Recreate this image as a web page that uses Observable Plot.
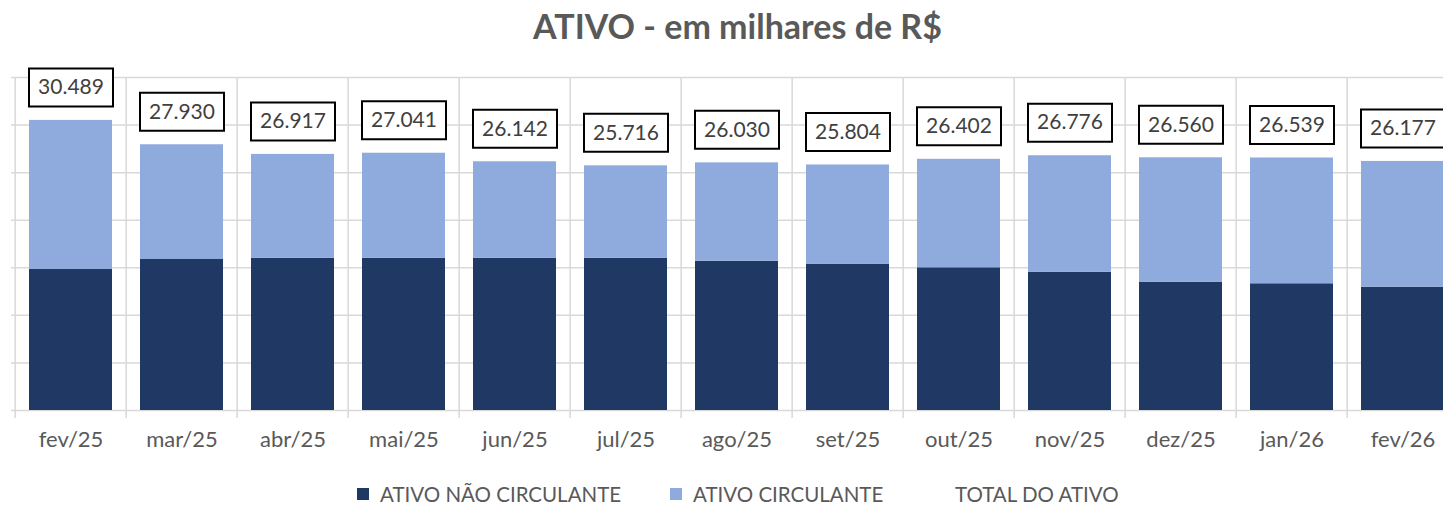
<!DOCTYPE html>
<html>
<head>
<meta charset="utf-8">
<script src="https://cdn.jsdelivr.net/npm/d3@7"></script>
<script src="https://cdn.jsdelivr.net/npm/@observablehq/plot@0.6"></script>
<style>
  body { margin: 0; background: #fff; overflow: hidden; font-family: Lato, "Open Sans", sans-serif; }
  #wrap { position: relative; width: 1475px; }
  #title { height: 60px; line-height: 52px; text-align: center; font-weight: bold; font-size: 34px; color: #595959; }
  #legend { position: relative; height: 39px; font-size: 20.5px; color: #595959; }
  .item { position: absolute; top: 0; height: 48px; display: flex; align-items: center; white-space: nowrap; }
  .sw { width: 12px; height: 12px; margin-right: 11px; }
  #chart svg { display: block; }
</style>
</head>
<body>
<div id="wrap">
  <div id="title">ATIVO - em milhares de R$</div>
  <div id="chart"></div>
  <div id="legend"></div>
</div>
<script>
const months = ["fev/25","mar/25","abr/25","mai/25","jun/25","jul/25","ago/25","set/25","out/25","nov/25","dez/25","jan/26","fev/26"];
const totalAtivo = [30489, 27930, 26917, 27041, 26142, 25716, 26030, 25804, 26402, 26776, 26560, 26539, 26177];
const ativoNaoCirculante = [14820, 15870, 16000, 16000, 16000, 16000, 15690, 15350, 15000, 14540, 13490, 13320, 12960];
const ativoCirculante = [15669, 12060, 10917, 11041, 10142, 9716, 10340, 10454, 11402, 12236, 13070, 13219, 13217];
const seriesNames = ["ATIVO NÃO CIRCULANTE", "ATIVO CIRCULANTE", "TOTAL DO ATIVO"];
const seriesColors = ["#203864", "#8FAADC", "none"];
const yTicks = [0, 5000, 10000, 15000, 20000, 25000, 30000, 35000];

const rows = [];
months.forEach((m, i) => {
  rows.push({month: m, serie: seriesNames[0], value: ativoNaoCirculante[i]});
  rows.push({month: m, serie: seriesNames[1], value: ativoCirculante[i]});
});
const labels = months.map((m, i) => ({month: m, total: totalAtivo[i]}));
const fmt = d3.formatLocale({decimal: ",", thousands: ".", grouping: [3], currency: ["R$", ""]}).format(",d");

const W = 1475, ML = 11, MR = 12;
const step = (W - ML - MR) / months.length;
const boxSymbol = { draw(ctx) { ctx.rect(-42, -19, 84, 38); } };

const chart = Plot.plot({
  width: W, height: 410,
  marginLeft: ML, marginRight: MR, marginTop: 17, marginBottom: 60,
  style: { fontFamily: "Lato, sans-serif", fontSize: "22px", color: "#595959", maxWidth: "none", overflow: "visible", background: "white" },
  x: { domain: months, paddingInner: 0.25, paddingOuter: 0.125, label: null, tickSize: 0, tickPadding: 21 },
  y: { domain: [0, 35000], axis: null },
  color: { domain: seriesNames.slice(0, 2), range: seriesColors.slice(0, 2) },
  marks: [
    Plot.ruleY(yTicks, { stroke: "#d9d9d9", strokeWidth: 1.5 }),
    Plot.ruleX(months, { x: d => d, dx: -step / 2, stroke: "#d9d9d9", strokeWidth: 1.5, insetBottom: -8 }),
    Plot.ruleX(months.slice(-1), { x: d => d, dx: step / 2, stroke: "#d9d9d9", strokeWidth: 1.5, insetBottom: -8 }),
    Plot.barY(rows, { x: "month", y: "value", fill: "serie" }),
    Plot.dot(labels, { x: "month", y: "total", dy: -33, symbol: boxSymbol, fill: "white", stroke: "black", strokeWidth: 2, r: 5 }),
    Plot.text(labels, { x: "month", y: "total", dy: -33, text: d => fmt(d.total), fill: "#404040", fontSize: 21 })
  ]
});
document.getElementById("chart").appendChild(chart);

const legend = document.getElementById("legend");
const lefts = [357, 670, 932];
seriesNames.forEach((name, i) => {
  const it = document.createElement("div");
  it.className = "item";
  it.style.left = lefts[i] + "px";
  const sw = document.createElement("span");
  sw.className = "sw";
  sw.style.background = seriesColors[i] === "none" ? "transparent" : seriesColors[i];
  const tx = document.createElement("span");
  tx.textContent = name;
  it.appendChild(sw); it.appendChild(tx);
  legend.appendChild(it);
});
</script>
</body>
</html>
